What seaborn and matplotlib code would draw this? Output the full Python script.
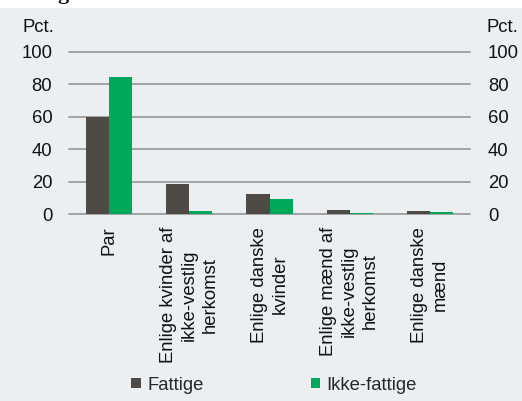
import matplotlib
matplotlib.use("Agg")
import matplotlib.pyplot as plt
import seaborn as sns
import pandas as pd
from matplotlib.patches import Rectangle

categories = ["Par", "Enlige kvinder af\nikke-vestlig\nherkomst", "Enlige danske\nkvinder",
              "Enlige mænd af\nikke-vestlig\nherkomst", "Enlige danske\nmænd"]
fattige = [60.0, 18.4, 12.5, 2.6, 2.2]
ikke_fattige = [84.4, 2.0, 9.6, 0.8, 1.6]
series = ["Fattige", "Ikke-fattige"]
yticks = [0, 20, 40, 60, 80, 100]

colors = {"Fattige": "#4E4A46", "Ikke-fattige": "#00A85A"}
bg = "#ECEFF2"

df = pd.DataFrame({
    "cat": categories * 2,
    "val": fattige + ikke_fattige,
    "serie": [series[0]] * len(categories) + [series[1]] * len(categories),
})

sns.set_theme(style="white")
plt.rcParams["font.family"] = ["Liberation Sans", "DejaVu Sans"]
fs = 13.3

W, H = 522, 401
fig = plt.figure(figsize=(W / 100, H / 100), dpi=100, facecolor="white")
fig.patches.append(Rectangle((0, 0), 1, 1 - 8 / H, transform=fig.transFigure,
                             facecolor=bg, edgecolor="none", zorder=-10))
fig.text(57 / W, 1 + 1 / H, "g", fontsize=16, fontweight="bold", family="Liberation Serif",
         ha="left", va="baseline", color="#111111")

ax = fig.add_axes([69 / W, 1 - 214.3 / H, (470 - 69) / W, (214.3 - 51.7) / H])
ax.set_facecolor("none")
sns.barplot(data=df, x="cat", y="val", hue="serie", palette=colors, ax=ax,
            width=0.575, saturation=1, legend=False, edgecolor="none")
ax.set_ylim(0, 100)
ax.set_xlim(-0.5, len(categories) - 0.5)
for t in yticks:
    ax.axhline(t, color="#9C9C9C", lw=1.3, zorder=0.5, clip_on=False)
for s in ax.spines.values():
    s.set_visible(False)
ax.set_yticks(yticks)
ax.set_yticklabels([str(t) for t in yticks], fontsize=fs, color="#111111")
ax.tick_params(axis="y", length=0, pad=12)
ax.set_xlabel("")
ax.set_ylabel("")
ax.tick_params(axis="x", length=0, pad=9)
ax.set_xticks(range(len(categories)))
ax.set_xticklabels(categories, rotation=90, ha="center", va="top", fontsize=fs,
                   multialignment="center", linespacing=1.3, color="#111111")

ax2 = ax.twinx()
ax2.set_ylim(0, 100)
ax2.set_yticks(yticks)
ax2.set_yticklabels([str(t) for t in yticks], fontsize=fs, color="#111111")
ax2.tick_params(axis="y", length=0, pad=13)
for s in ax2.spines.values():
    s.set_visible(False)
ax2.set_facecolor("none")

fig.text(23 / W, 1 - 28 / H, "Pct.", fontsize=fs, ha="left", va="center", color="#111111")
fig.text(518 / W, 1 - 28 / H, "Pct.", fontsize=fs, ha="right", va="center", color="#111111")

handles = [Rectangle((0, 0), 1, 1, facecolor=colors[s], edgecolor="none") for s in series]
fig.legend(handles, series, loc="center", bbox_to_anchor=(274 / W, 1 - 385 / H), ncol=2,
           frameon=False, fontsize=fs, handlelength=0.5, handleheight=0.5,
           handletextpad=0.35, columnspacing=5.8, borderaxespad=0, borderpad=0)

fig.savefig("out.png", dpi=100, facecolor="white")
